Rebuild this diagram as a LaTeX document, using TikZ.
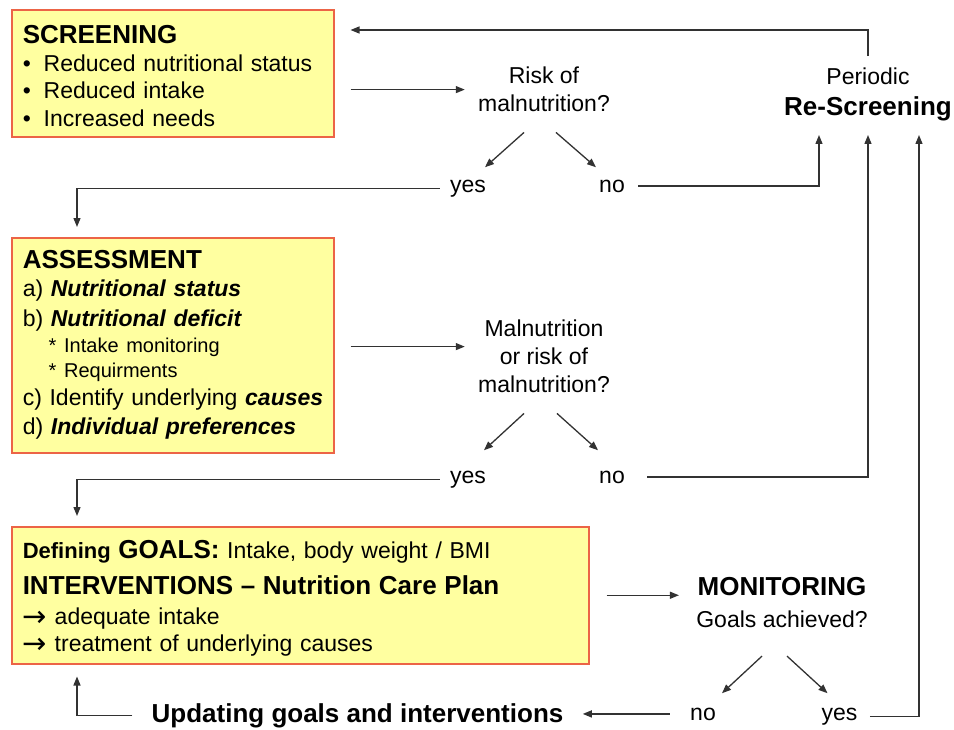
\documentclass[tikz,border=0pt]{standalone}
\usepackage{graphicx}
\usepackage{fontspec}
\setmainfont{Liberation Sans}
\newfontfamily\arrowfont{DejaVu Sans}
\usetikzlibrary{arrows.meta}
\definecolor{boxfill}{RGB}{255,255,160}
\definecolor{boxline}{RGB}{236,100,70}
\definecolor{linegray}{RGB}{50,50,50}
\newcommand{\titlesize}{\fontsize{13}{14}\selectfont\bfseries}
\newcommand{\smallsize}{\fontsize{10}{12.5}\selectfont}
\newcommand{\rarr}{\raisebox{-1pt}{\arrowfont\fontsize{14.5}{12.5}\selectfont →}}
\begin{document}
\begin{tikzpicture}[x=0.5pt,y=-0.5pt,
    box/.style={draw=boxline,line width=0.75pt,fill=boxfill,anchor=north west,align=left,inner xsep=5.5pt,inner ysep=0pt},
    txt/.style={inner sep=0pt,align=center,font=\fontsize{11.5}{14}\selectfont},
    arr/.style={draw=linegray,line width=0.65pt,-{Triangle[length=4.5pt,width=3.5pt]}}]
    \useasboundingbox (0,0) rectangle (954,729);

    \node[box,text width=150pt,minimum height=63.5pt,font=\fontsize{11.5}{13.75}\selectfont] (scr) at (11,9)
        {\rule{0pt}{12pt}{\fontsize{13}{13.75}\selectfont\bfseries SCREENING}\\
         \makebox[10.5pt][l]{•}Reduced nutritional status\\
         \makebox[10.5pt][l]{•}Reduced intake\\
         \makebox[10.5pt][l]{•}Increased needs};
    \node[box,text width=150pt,minimum height=107.5pt,font=\fontsize{11.5}{12.5}\selectfont] (ass) at (11,237)
        {{\fontsize{13}{12.5}\selectfont\bfseries ASSESSMENT}\\[1.5pt]
         a) \textbf{\textit{Nutritional status}}\\[2.5pt]
         b) \textbf{\textit{Nutritional deficit}}\\[0.5pt]
         {\smallsize\hspace*{13pt}* Intake monitoring}\\
         {\smallsize\hspace*{13pt}* Requirments}\\[1.5pt]
         \mbox{c) Identify underlying \textbf{\textit{causes}}}\\[2pt]
         d) \textbf{\textit{Individual preferences}}};
    \node[box,text width=277.5pt,minimum height=68.5pt,font=\fontsize{11.5}{12.5}\selectfont] (goal) at (11,526)
        {\rule{0pt}{12pt}{\fontsize{11}{12.5}\selectfont\bfseries Defining }{\fontsize{13}{12.5}\selectfont\bfseries GOALS:} Intake, body weight / BMI\\[5.5pt]
         {\fontsize{13}{12.5}\selectfont\bfseries INTERVENTIONS -- Nutrition Care Plan}\\[2.5pt]
         \rarr\ adequate intake\\[1pt]
         \rarr\ treatment of underlying causes};

    \node[txt] (risk) at (544,89.6) {Risk of\\malnutrition?};
    \node[txt] (resc) at (868,94) {Periodic\\[1.5pt]{\titlesize Re-Screening}};
    \node[txt,anchor=base] (yes1) at (468,192) {yes};
    \node[txt,anchor=base] (no1) at (612,192) {no};
    \node[txt] (mal) at (544,356.6) {Malnutrition\\or risk of\\malnutrition?};
    \node[txt,anchor=base] (yes2) at (468,483) {yes};
    \node[txt,anchor=base] (no2) at (612,483) {no};
    \node[txt] (mon) at (782,602.5) {{\titlesize MONITORING}\\[2pt]Goals achieved?};
    \node[txt,anchor=base] (no3) at (703,720) {no};
    \node[txt,anchor=base] (yes3) at (839.5,720) {yes};
    \node[txt,anchor=base,font=\titlesize] (upd) at (357.5,722) {Updating goals and interventions};

    \draw[arr,shorten <=8pt,shorten >=6.5pt] (scr.east |- risk.west) -- (risk.west);
    \draw[arr,shorten <=5.5pt] (resc.north) |- ([xshift=8pt,yshift=-10.5pt]scr.north east);
    \draw[arr] ([shift={(-20,20)}]risk.south) -- ([shift={(17,-12)}]yes1.north);
    \draw[arr] ([shift={(12,20)}]risk.south) -- ([shift={(-16,-12)}]no1.north);
    \draw[arr,shorten <=5pt,shorten >=5pt] (yes1.west) -| ([xshift=33pt]ass.north west);
    \draw[arr,shorten <=6.5pt,shorten >=7pt] (no1.east) -| ([xshift=-24.5pt]resc.south);

    \draw[arr,shorten <=8pt,shorten >=6.5pt] ([yshift=5pt]ass.east |- mal.west) -- ([yshift=5pt]mal.west);
    \draw[arr] ([shift={(-20,20)}]mal.south) -- ([shift={(16,-20)}]yes2.north);
    \draw[arr] ([shift={(13,20)}]mal.south) -- ([shift={(-14,-20)}]no2.north);
    \draw[arr,shorten <=5pt,shorten >=5pt] (yes2.west) -| ([xshift=33pt]goal.north west);
    \draw[arr,shorten <=11pt,shorten >=7pt] (no2.east) -| (resc.south);

    \draw[arr,shorten <=8.5pt,shorten >=8.5pt] (goal.east) -- (goal.east -| mon.west);
    \draw[arr] ([shift={(-20,28)}]mon.south) -- ([shift={(19,-14)}]no3.north);
    \draw[arr] ([shift={(5,28)}]mon.south) -- ([shift={(-12,-14)}]yes3.north);
    \draw[arr,shorten <=10pt,shorten >=9.5pt] (no3.west) -- (no3.west -| upd.east);
    \draw[arr,shorten <=9.5pt,shorten >=6pt] (upd.west) -| ([xshift=33pt]goal.south west);
    \draw[arr,shorten <=6pt,shorten >=7pt] (yes3.east) -| ([xshift=25.5pt]resc.south);
\end{tikzpicture}
\end{document}
